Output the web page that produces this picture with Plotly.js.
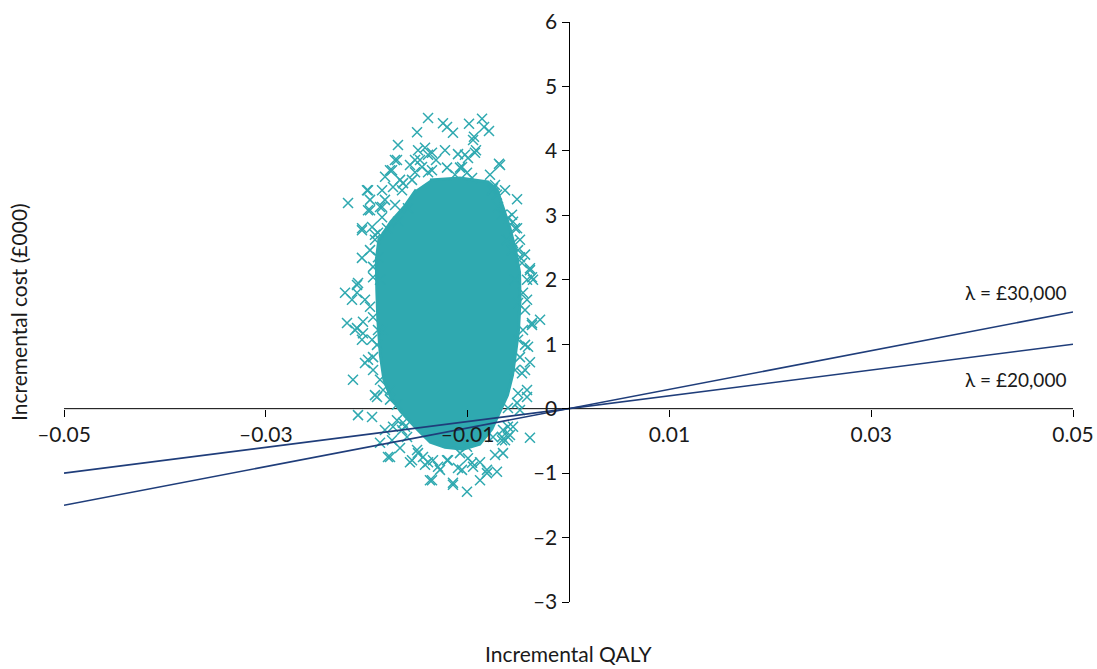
<!DOCTYPE html>
<html>
<head>
<meta charset="utf-8">
<script src="https://cdn.plot.ly/plotly-3.0.1.min.js"></script>
<style>html,body{margin:0;padding:0;background:#fff;}#chart{width:1097px;height:669px;}</style>
</head>
<body>
<div id="chart"></div>
<script>
// Dense core of the simulation cloud (outline, QALY in thousandths, cost in £000)
var coreQalyMilli = [-13.73,-10.75,-7.98,-7.08,-6.39,-5.80,-5.25,-4.85,-4.80,-4.95,-5.20,-5.55,-6.05,-6.79,-7.60,-8.80,-10.45,-12.24,-13.70,-15.00,-16.60,-17.60,-18.30,-18.65,-18.90,-19.00,-19.05,-18.80,-17.60,-16.20,-15.10];
var coreCost = [3.55,3.58,3.52,3.40,3.08,2.80,2.46,2.12,1.69,1.22,0.91,0.52,0.21,-0.05,-0.32,-0.55,-0.63,-0.60,-0.52,-0.32,-0.05,0.17,0.45,0.83,1.38,1.84,2.31,2.62,2.90,3.15,3.40];

// Scattered simulations away from the core (QALY in thousandths, cost in £000)
var ptQalyMilli = [-13.92,-12.44,-12.04,-11.45,-9.86,-8.57,-8.37,-7.88,-9.37,-15.01,-16.90,-9.17,-6.89,-10.95,-9.96,-17.20,-17.69,-21.85,-19.97,-19.67,
 -19.87,-18.68,-20.47,-20.47,-5.10,-7.48,-5.10,-3.82,-3.52,-22.15,-20.86,-21.46,-21.95,-21.16,-21.36,-20.86,-19.47,-18.68,-17.69,-15.71,
 -14.92,-13.73,-12.74,-11.45,-10.06,-8.77,-7.09,-3.82,-3.62,-2.82,-4.01,-4.11,-5.50,-5.80,-9.46,-8.08,-13.43,-12.04,-16.20,-17.00,
 -10.75,-6.49,-20.17,-20.47,-19.87,-19.18,-18.19,-19.67,-19.18,-18.19,-16.70,-15.71,-14.72,-13.92,-13.13,-12.24,-15.21,-13.53,-12.04,-11.25,
 -7.78,-6.29,-5.60,-4.81,-4.31,-4.11,-4.31,-4.81,-6.29,-7.28,-17.49,-16.70,-14.22,-10.56,-5.30,-18.68,-18.38,-17.69,-16.50,-10.75];
var ptCost = [4.51,4.43,4.37,4.28,4.42,4.50,4.37,4.31,4.22,4.29,4.09,4.01,3.80,3.95,3.89,3.86,3.70,3.19,3.39,3.24,
 3.08,3.13,2.77,2.34,3.25,3.42,2.80,2.15,2.00,1.80,1.95,1.69,1.33,1.22,0.45,-0.10,-0.13,-0.53,-0.75,-0.83,
 -0.69,-1.11,-0.95,-1.15,-1.29,-1.11,-0.98,-0.45,1.33,1.38,0.96,0.18,-0.28,-0.41,-0.90,-1.00,-0.80,-0.80,-0.28,-0.18,
 -0.69,-0.69,1.69,1.07,0.76,0.21,-0.33,2.46,2.70,3.24,3.55,3.78,3.86,3.94,3.86,4.01,3.67,3.70,3.74,3.63,
 3.63,3.39,3.01,2.62,2.39,1.69,0.60,-0.02,-0.49,-0.72,-0.49,-0.61,-0.87,-0.95,2.00,2.00,1.22,0.29,3.39,3.74];

// Simulations crowding the edge of the core (QALY in thousandths, cost in £000)
var edgeQalyMilli = [-17.00,-17.49,-18.18,-19.87,-18.48,-17.39,-16.40,-15.51,-15.21,-14.91,-14.22,-13.53,-14.52,-13.92,-18.48,-17.19,-19.67,-18.48,-20.46,-19.47,
 -18.88,-17.99,-16.90,-15.91,-19.18,-19.37,-19.37,-20.96,-18.88,-20.96,-20.96,-20.37,-19.67,-19.37,-20.37,-19.47,-18.88,-18.98,-19.37,-20.17,
 -19.37,-18.68,-18.98,-18.38,-17.69,-17.00,-17.39,-16.50,-16.00,-9.46,-10.26,-9.27,-6.79,-10.55,-10.06,-9.56,-7.28,-7.58,-7.09,-6.99,
 -6.59,-6.00,-5.50,-5.30,-6.09,-5.50,-5.00,-5.60,-4.81,-4.61,-3.82,-4.11,-3.62,-4.51,-5.00,-4.31,-3.62,-4.51,-5.00,-4.31,
 -3.82,-4.81,-5.30,-4.61,-4.11,-5.00,-5.10,-6.00,-6.49,-6.00,-6.59,-16.40,-17.89,-15.51,-15.01,-14.42,-13.92,-12.93,-11.94,-10.95,
 -9.96,-9.56,-8.77,-8.08,-6.00,-6.59,-7.48,-13.53,-11.45,-10.06];
var edgeCost = [3.86,3.70,3.60,3.39,3.39,3.44,3.50,3.55,3.86,4.01,4.05,3.97,3.75,3.67,3.13,3.16,3.08,2.97,2.80,2.82,
 2.73,2.80,2.90,3.11,2.62,2.20,2.04,1.92,2.35,1.80,1.25,1.35,1.58,1.42,1.17,1.07,1.22,0.99,0.80,0.71,
 0.60,0.45,0.18,0.29,0.14,0.06,-0.28,-0.33,-0.44,4.17,3.94,3.97,3.78,3.75,3.66,3.58,3.47,3.39,3.32,3.13,
 3.01,2.96,2.90,2.80,2.62,2.57,2.46,2.46,2.35,2.26,2.18,2.00,2.04,1.80,1.64,1.53,1.30,1.22,1.07,0.99,
 0.72,0.80,0.60,0.55,0.29,0.24,0.09,0.01,-0.33,-0.44,-0.49,-0.22,-0.75,-0.80,-0.64,-0.75,-0.83,-0.90,-0.80,-0.92,
 -0.77,-0.84,-0.83,-0.95,-0.28,-0.44,-0.44,-1.11,-1.18,-0.59];

// Willingness-to-pay threshold lines
var lineQaly = [-0.05, 0.05];
var line20Cost = [-1, 1];
var line30Cost = [-1.5, 1.5];
var lineLabels = ['λ = £30,000', 'λ = £20,000'];

var xTickVals = [-0.05, -0.03, -0.01, 0.01, 0.03, 0.05];
var xTickText = ['–0.05', '–0.03', '–0.01', '0.01', '0.03', '0.05'];
var yTickVals = [-3, -2, -1, 0, 1, 2, 3, 4, 5, 6];
var yTickText = ['–3', '–2', '–1', '0', '1', '2', '3', '4', '5', '6'];

var teal = '#2fa9b0';
var navy = '#1f3d7a';
var toQaly = function (a) { return a.map(function (v) { return v / 1000; }); };
var crossMarker = {symbol: 'x-thin', size: 10, color: teal, line: {color: teal, width: 1.5}};

var traces = [
  {x: toQaly(coreQalyMilli), y: coreCost, mode: 'lines', fill: 'toself', fillcolor: teal,
   line: {color: teal, width: 3}, hoverinfo: 'skip'},
  {x: toQaly(edgeQalyMilli), y: edgeCost, mode: 'markers', marker: crossMarker},
  {x: toQaly(ptQalyMilli), y: ptCost, mode: 'markers', marker: crossMarker},
  {x: lineQaly, y: line30Cost, mode: 'lines', line: {color: navy, width: 1.6}},
  {x: lineQaly, y: line20Cost, mode: 'lines', line: {color: navy, width: 1.6}}
];

var tickFont = {family: 'Lato, "Open Sans", sans-serif', size: 21, color: '#1a1a1a'};
var titleFont = {family: 'Lato, "Open Sans", sans-serif', size: 21, color: '#1a1a1a'};
var labelFont = {family: 'Lato, "Open Sans", sans-serif', size: 19, color: '#1a1a1a'};

var layout = {
  width: 1097, height: 669,
  margin: {l: 64, r: 24, t: 22, b: 67},
  paper_bgcolor: '#fff', plot_bgcolor: '#fff',
  showlegend: false,
  font: tickFont,
  xaxis: {range: [-0.05, 0.05], anchor: 'free', position: 1/3, showgrid: false, zeroline: false,
          showline: false, ticks: 'outside', ticklen: 7, tickcolor: '#000', tickwidth: 1,
          tickvals: xTickVals, ticktext: xTickText, tickfont: tickFont, fixedrange: true},
  yaxis: {range: [-3, 6], anchor: 'free', position: 0.5, showgrid: false, zeroline: false,
          showline: true, linecolor: '#000', linewidth: 1, ticks: 'outside', ticklen: 7, tickcolor: '#000',
          tickwidth: 1, tickvals: yTickVals, ticktext: yTickText, tickfont: tickFont, fixedrange: true},
  shapes: [
    {type: 'line', xref: 'x', yref: 'y', x0: -0.05, x1: 0.05, y0: 0, y1: 0, layer: 'below',
     line: {color: '#000', width: 1}}
  ],
  annotations: [
    {x: 0.0495, y: 1.80, xref: 'x', yref: 'y', text: lineLabels[0], showarrow: false, xanchor: 'right', yanchor: 'middle', font: labelFont},
    {x: 0.0495, y: 0.46, xref: 'x', yref: 'y', text: lineLabels[1], showarrow: false, xanchor: 'right', yanchor: 'middle', font: labelFont},
    {x: 0.5, y: -0.088, xref: 'paper', yref: 'paper', text: 'Incremental QALY', showarrow: false, xanchor: 'center', yanchor: 'middle', font: titleFont},
    {x: -0.0456, y: 0.5, xref: 'paper', yref: 'paper', text: 'Incremental cost (£000)', showarrow: false, textangle: -90, xanchor: 'center', yanchor: 'middle', font: titleFont}
  ]
};

Plotly.newPlot('chart', traces, layout, {displayModeBar: false, staticPlot: true});
</script>
</body>
</html>
